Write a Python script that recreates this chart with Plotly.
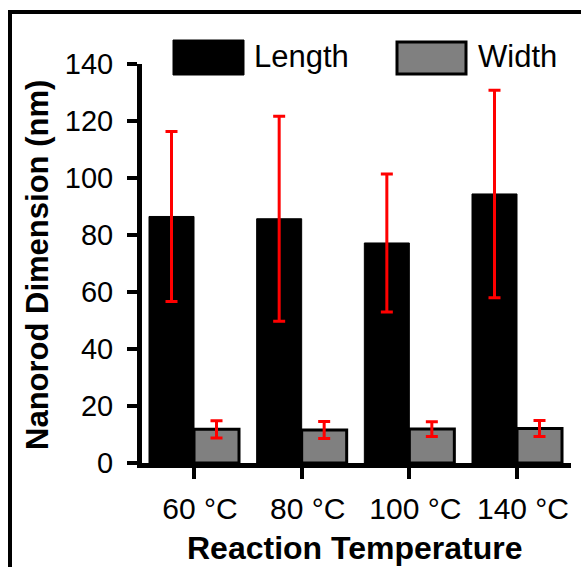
import plotly.graph_objects as go

# Nanorod dimensions by reaction temperature (mean ± SD, nm)
temperatures = ["60 °C", "80 °C", "100 °C", "140 °C"]
length_mean = [86.5, 85.7, 77.2, 94.4]
length_sd = [29.8, 36.0, 24.2, 36.4]
width_mean = [11.8, 11.6, 11.9, 12.1]
width_sd = [3.0, 3.0, 2.6, 2.8]
y_ticks = [0, 20, 40, 60, 80, 100, 120, 140]

FONT = "Arial, Liberation Sans, sans-serif"
W, H = 581, 567
L, R, T, B = 142, 10, 64, 104
PW, PH = W - L - R, H - T - B


def px_x(px):
    return (px - L) / PW


def px_y(py):
    return (H - B - py) / PH


err_style = dict(type="data", color="#ff0000", thickness=3, width=6, visible=True)

fig = go.Figure()
fig.add_trace(go.Bar(
    name="Length", x=temperatures, y=length_mean,
    marker=dict(color="#000000", line=dict(color="#000000", width=1)),
    error_y=dict(array=length_sd, **err_style),
    showlegend=False,
))
fig.add_trace(go.Bar(
    name="Width", x=temperatures, y=width_mean,
    marker=dict(color="#808080", line=dict(color="#000000", width=3)),
    error_y=dict(array=width_sd, **err_style),
    showlegend=False,
))

# Legend drawn as large swatches with labels
shapes = [
    dict(type="rect", xref="paper", yref="paper",
         x0=px_x(173), x1=px_x(244), y0=px_y(75), y1=px_y(40),
         fillcolor="#000000", line=dict(color="#000000", width=1)),
    dict(type="rect", xref="paper", yref="paper",
         x0=px_x(397), x1=px_x(466), y0=px_y(74), y1=px_y(42),
         fillcolor="#808080", line=dict(color="#000000", width=3)),
    # outer frame
    dict(type="rect", xref="paper", yref="paper",
         x0=px_x(10), x1=px_x(700), y0=px_y(700), y1=px_y(12),
         fillcolor="rgba(0,0,0,0)", line=dict(color="#000000", width=4),
         layer="below"),
]

annotations = [
    dict(text="Length", xref="paper", yref="paper", x=px_x(252), y=px_y(56),
         xanchor="left", yanchor="middle", showarrow=False,
         font=dict(family=FONT, size=31, color="#000000")),
    dict(text="Width", xref="paper", yref="paper", x=px_x(476), y=px_y(56),
         xanchor="left", yanchor="middle", showarrow=False,
         font=dict(family=FONT, size=31, color="#000000")),
    dict(text="<b>Reaction Temperature</b>", xref="paper", yref="paper",
         x=px_x(355), y=px_y(548), xanchor="center", yanchor="middle",
         showarrow=False, font=dict(family=FONT, size=32, color="#000000")),
    dict(text="<b>Nanorod Dimension (nm)</b>", xref="paper", yref="paper",
         x=px_x(37), y=px_y(265), xanchor="center", yanchor="middle",
         textangle=-90, showarrow=False,
         font=dict(family=FONT, size=31, color="#000000")),
]

fig.update_layout(
    width=W, height=H,
    margin=dict(l=L, r=R, t=T, b=B, pad=0),
    paper_bgcolor="#ffffff", plot_bgcolor="#ffffff",
    barmode="group", bargap=0.164, bargroupgap=0,
    font=dict(family=FONT, color="#000000"),
    shapes=shapes, annotations=annotations,
    showlegend=False,
)
fig.update_xaxes(
    range=[-0.483, 3.5015], showgrid=False, zeroline=False,
    showline=True, linecolor="#000000", linewidth=5,
    ticks="outside", ticklen=11, tickwidth=4, tickcolor="#000000",
    tickfont=dict(family=FONT, size=30, color="#000000"),
    ticklabelshift=6, ticklabelstandoff=4,
)
fig.update_yaxes(
    range=[0, 140], tickvals=y_ticks, showgrid=False, zeroline=False,
    showline=True, linecolor="#000000", linewidth=5,
    ticks="outside", ticklen=10, tickwidth=4, tickcolor="#000000",
    tickfont=dict(family=FONT, size=29, color="#000000"),
    ticklabelstandoff=8,
)

fig.write_html("out.html")
